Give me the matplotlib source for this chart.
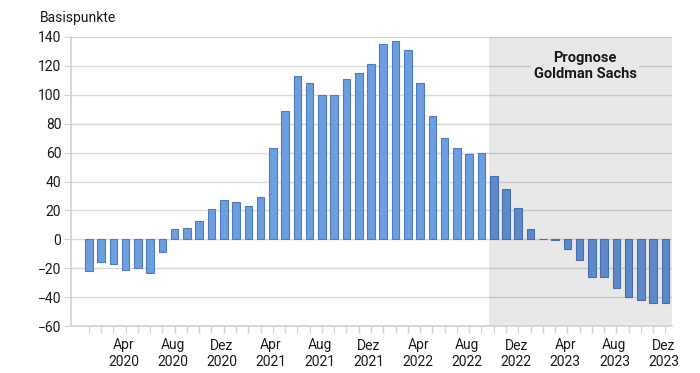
import matplotlib
matplotlib.use("Agg")
import matplotlib.pyplot as plt
import matplotlib.transforms as mtransforms
import numpy as np

plt.rcParams['font.family'] = ['Roboto', 'DejaVu Sans']

# ---- data ----
months = ["Jan", "Feb", "Mär", "Apr", "Mai", "Jun", "Jul", "Aug", "Sep", "Okt", "Nov", "Dez"]
years = [2020, 2021, 2022, 2023]
values = [-22, -16, -17, -21, -20, -23, -9, 7, 8, 13, 21, 27,
          26, 23, 29, 63, 89, 113, 108, 100, 100, 111, 115, 121,
          135, 137, 131, 108, 85, 70, 63, 59, 60, 44, 35, 22,
          7, 0, -0.5, -7, -14, -26, -26, -34, -40, -42, -44, -44]
forecast_start = 33  # index of first forecast month (Okt 2022)
label_months = ["Apr", "Aug", "Dez"]
y_ticks = [-60, -40, -20, 0, 20, 40, 60, 80, 100, 120, 140]
y_label = "Basispunkte"
forecast_text = "Prognose\nGoldman Sachs"

# ---- figure ----
fig = plt.figure(figsize=(7, 3.73), dpi=100)
ax = fig.add_axes([71/700, 1-326/373, (672-71)/700, (326-37)/373])

x = np.arange(len(values))
xlo, xhi = -1.45, 47.53
ax.set_xlim(xlo, xhi)
ax.set_ylim(-60, 140)

# forecast shading
shade = "#e8e8e8"
ax.axvspan(forecast_start - 0.4, xhi, color=shade, zorder=0, lw=0)

# gridlines (lighter in white part, darker in shaded part)
for yv in y_ticks[1:]:
    ax.plot([xlo, forecast_start - 0.4], [yv, yv], color="#d9d9d9", lw=1.0, zorder=1)
    ax.plot([forecast_start - 0.4, xhi], [yv, yv], color="#c8c8c8", lw=1.0, zorder=1)

fills = ["#6d9fe0" if i < forecast_start else "#5e88c8" for i in x]
edges = ["#4f7cc0" if i < forecast_start else "#4670ae" for i in x]
ax.bar(x, values, width=0.62, color=fills, edgecolor=edges, linewidth=0.8, zorder=3)

# text box
ax.text(40.44, 120, forecast_text, ha="center", va="center", fontsize=10.5,
        fontweight="bold", color="#1a1a1a", linespacing=1.2, zorder=4,
        bbox=dict(boxstyle="square,pad=0.2", facecolor=shade, edgecolor="none"))

# axes styling
for s in ["top", "right"]:
    ax.spines[s].set_visible(False)
for s in ["left", "bottom"]:
    ax.spines[s].set_color("#d0d0d0")
    ax.spines[s].set_linewidth(1.2)

ax.set_yticks(y_ticks)
ax.set_yticklabels([f"{v}".replace("-", "\u2212") for v in y_ticks])
ax.tick_params(axis="y", length=5, color="#d0d0d0", pad=2, labelsize=10, labelcolor="#1a1a1a")

# x ticks: minor at every bar, labelled ones at Apr/Aug/Dez
major_idx = [i for i in x if months[i % 12] in label_months]
major_lbl = [f"{months[i % 12]}\n{years[i // 12]}" for i in major_idx]
ax.set_xticks(major_idx)
ax.set_xticklabels(major_lbl)
ax.set_xticks(x, minor=True)
ax.tick_params(axis="x", which="both", length=5, color="#d0d0d0", width=1.0)
ax.tick_params(axis="x", which="major", pad=4, labelsize=10, labelcolor="#1a1a1a")
shift = mtransforms.ScaledTranslation(-2/100, 0, fig.dpi_scale_trans)
for lbl in ax.get_xticklabels():
    lbl.set_transform(lbl.get_transform() + shift)

fig.text(40/700, 1-18/373, y_label, ha="left", va="center", fontsize=10, color="#1a1a1a")

fig.savefig("out.png", dpi=100)
